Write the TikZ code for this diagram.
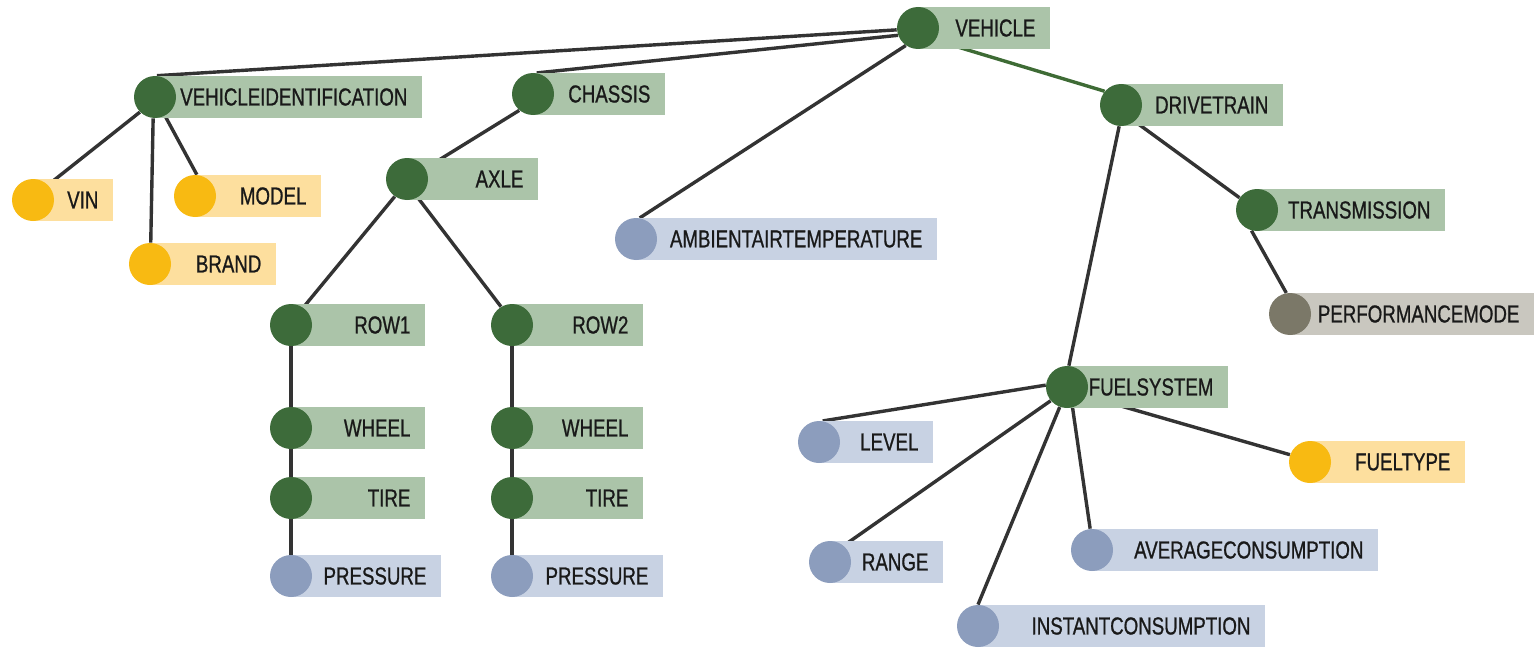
\documentclass[tikz,border=0pt]{standalone}
\usepackage{fontspec}
\setmainfont{Liberation Sans}[FakeStretch=0.76, FakeBold=0.8]
\usepackage{tikz}
\usetikzlibrary{backgrounds}

\definecolor{dkgreen}{HTML}{3D6B3A}
\definecolor{ltgreen}{HTML}{ABC4A9}
\definecolor{dkyellow}{HTML}{F8BA12}
\definecolor{ltyellow}{HTML}{FDDF9E}
\definecolor{dkblue}{HTML}{8C9DBD}
\definecolor{ltblue}{HTML}{C8D2E3}
\definecolor{dkgrey}{HTML}{7B7868}
\definecolor{ltgrey}{HTML}{C9C7BF}
\definecolor{linkgrey}{HTML}{333333}
\definecolor{linkgreen}{HTML}{3E6B35}

\tikzset{
  disc/.style={circle, inner sep=0pt, minimum size=21pt},
  tag/.style={anchor=west, minimum height=21pt, inner xsep=7.5pt, inner ysep=0pt,
    align=right, text=black!90, font=\fontsize{12.3}{14}\selectfont},
  grndot/.style={disc, fill=dkgreen},  grnbox/.style={tag, fill=ltgreen},
  ylwdot/.style={disc, fill=dkyellow}, ylwbox/.style={tag, fill=ltyellow},
  bludot/.style={disc, fill=dkblue},   blubox/.style={tag, fill=ltblue},
  grydot/.style={disc, fill=dkgrey},   grybox/.style={tag, fill=ltgrey},
  link/.style={draw=linkgrey, line width=1.7pt},
}

\begin{document}
\begin{tikzpicture}[x=0.5pt, y=-0.5pt]
    \useasboundingbox (0,0) rectangle (1534,647);
    % top level
    \node[grnbox, text width=51pt] (veh-l) at (918,28) {VEHICLE};
    \node[grndot] (veh) at (918,28) {};
    \node[grnbox, text width=118.5pt] (vid-l) at (155,97) {VEHICLEIDENTIFICATION};
    \node[grndot] (vid) at (155,97) {};
    \node[grnbox, text width=51pt] (chas-l) at (533,94) {CHASSIS};
    \node[grndot] (chas) at (533,94) {};
    \node[blubox, text width=135.5pt] (amb-l) at (636,239) {AMBIENTAIRTEMPERATURE};
    \node[bludot] (amb) at (636,239) {};
    \node[grnbox, text width=66pt] (drv-l) at (1121,105) {DRIVETRAIN};
    \node[grndot] (drv) at (1121,105) {};
    % identification
    \node[ylwbox, text width=25pt] (vin-l) at (33,200) {VIN};
    \node[ylwdot] (vin) at (33,200) {};
    \node[ylwbox, text width=48pt] (model-l) at (195,196) {MODEL};
    \node[ylwdot] (model) at (195,196) {};
    \node[ylwbox, text width=48pt] (brand-l) at (150,264) {BRAND};
    \node[ylwdot] (brand) at (150,264) {};
    % chassis
    \node[grnbox, text width=50.5pt] (axle-l) at (407,179) {AXLE};
    \node[grndot] (axle) at (407,179) {};
    \node[grnbox, text width=52pt] (row1-l) at (291,325) {ROW1};
    \node[grndot] (row1) at (291,325) {};
    \node[grnbox, text width=50.5pt] (row2-l) at (512,325) {ROW2};
    \node[grndot] (row2) at (512,325) {};
    \node[grnbox, text width=52pt] (whl1-l) at (291,428) {WHEEL};
    \node[grndot] (whl1) at (291,428) {};
    \node[grnbox, text width=50.5pt] (whl2-l) at (512,428) {WHEEL};
    \node[grndot] (whl2) at (512,428) {};
    \node[grnbox, text width=52pt] (tire1-l) at (291,498) {TIRE};
    \node[grndot] (tire1) at (291,498) {};
    \node[grnbox, text width=50.5pt] (tire2-l) at (512,498) {TIRE};
    \node[grndot] (tire2) at (512,498) {};
    \node[blubox, text width=60pt] (prs1-l) at (291,576) {PRESSURE};
    \node[bludot] (prs1) at (291,576) {};
    \node[blubox, text width=60.5pt] (prs2-l) at (512,576) {PRESSURE};
    \node[bludot] (prs2) at (512,576) {};
    % drivetrain
    \node[grnbox, text width=79pt] (trans-l) at (1257,210) {TRANSMISSION};
    \node[grndot] (trans) at (1257,210) {};
    \node[grybox, text width=107pt] (perf-l) at (1290,314) {PERFORMANCEMODE};
    \node[grydot] (perf) at (1290,314) {};
    \node[grnbox, text width=65.5pt] (fuel-l) at (1067,387) {FUELSYSTEM};
    \node[grndot] (fuel) at (1067,387) {};
    \node[blubox, text width=42pt] (lvl-l) at (819,442) {LEVEL};
    \node[bludot] (lvl) at (819,442) {};
    \node[ylwbox, text width=62.5pt] (ftype-l) at (1310,462) {FUELTYPE};
    \node[ylwdot] (ftype) at (1310,462) {};
    \node[blubox, text width=41.5pt] (rng-l) at (830,562) {RANGE};
    \node[bludot] (rng) at (830,562) {};
    \node[blubox, text width=128pt] (avg-l) at (1092,550) {AVERAGECONSUMPTION};
    \node[bludot] (avg) at (1092,550) {};
    \node[blubox, text width=128.5pt] (inst-l) at (978,626) {INSTANTCONSUMPTION};
    \node[bludot] (inst) at (978,626) {};

    \begin{scope}[on background layer]
    \draw[link] (veh.185) -- (vid.85);
    \draw[link] (veh.200) -- (chas.80);
    \draw[link] (veh.235) -- (amb.80);
    \draw[link, draw=linkgreen] (veh.-35) -- (drv.140);
    \draw[link] (vid.225) -- (vin.45);
    \draw[link] (vid.265) -- (brand.88);
    \draw[link] (vid.-62) -- (model.85);
    \draw[link] (chas.230) -- (axle.30);
    \draw[link] (axle.235) -- (row1.55);
    \draw[link] (axle.300) -- (row2.121);
    \draw[link] (row1) -- (whl1) -- (tire1) -- (prs1);
    \draw[link] (row2) -- (whl2) -- (tire2) -- (prs2);
    \draw[link] (drv.-50) -- (trans.145);
    \draw[link] (drv.265) -- (fuel.85);
    \draw[link] (trans.255) -- (perf.100);
    \draw[link] (fuel.175) -- (lvl.80);
    \draw[link] (fuel.220) -- (rng.50);
    \draw[link] (fuel.250) -- (inst.north);
    \draw[link] (fuel.285) -- (avg.95);
    \draw[link] (fuel.-25) -- (ftype.160);
    \end{scope}
\end{tikzpicture}
\end{document}
